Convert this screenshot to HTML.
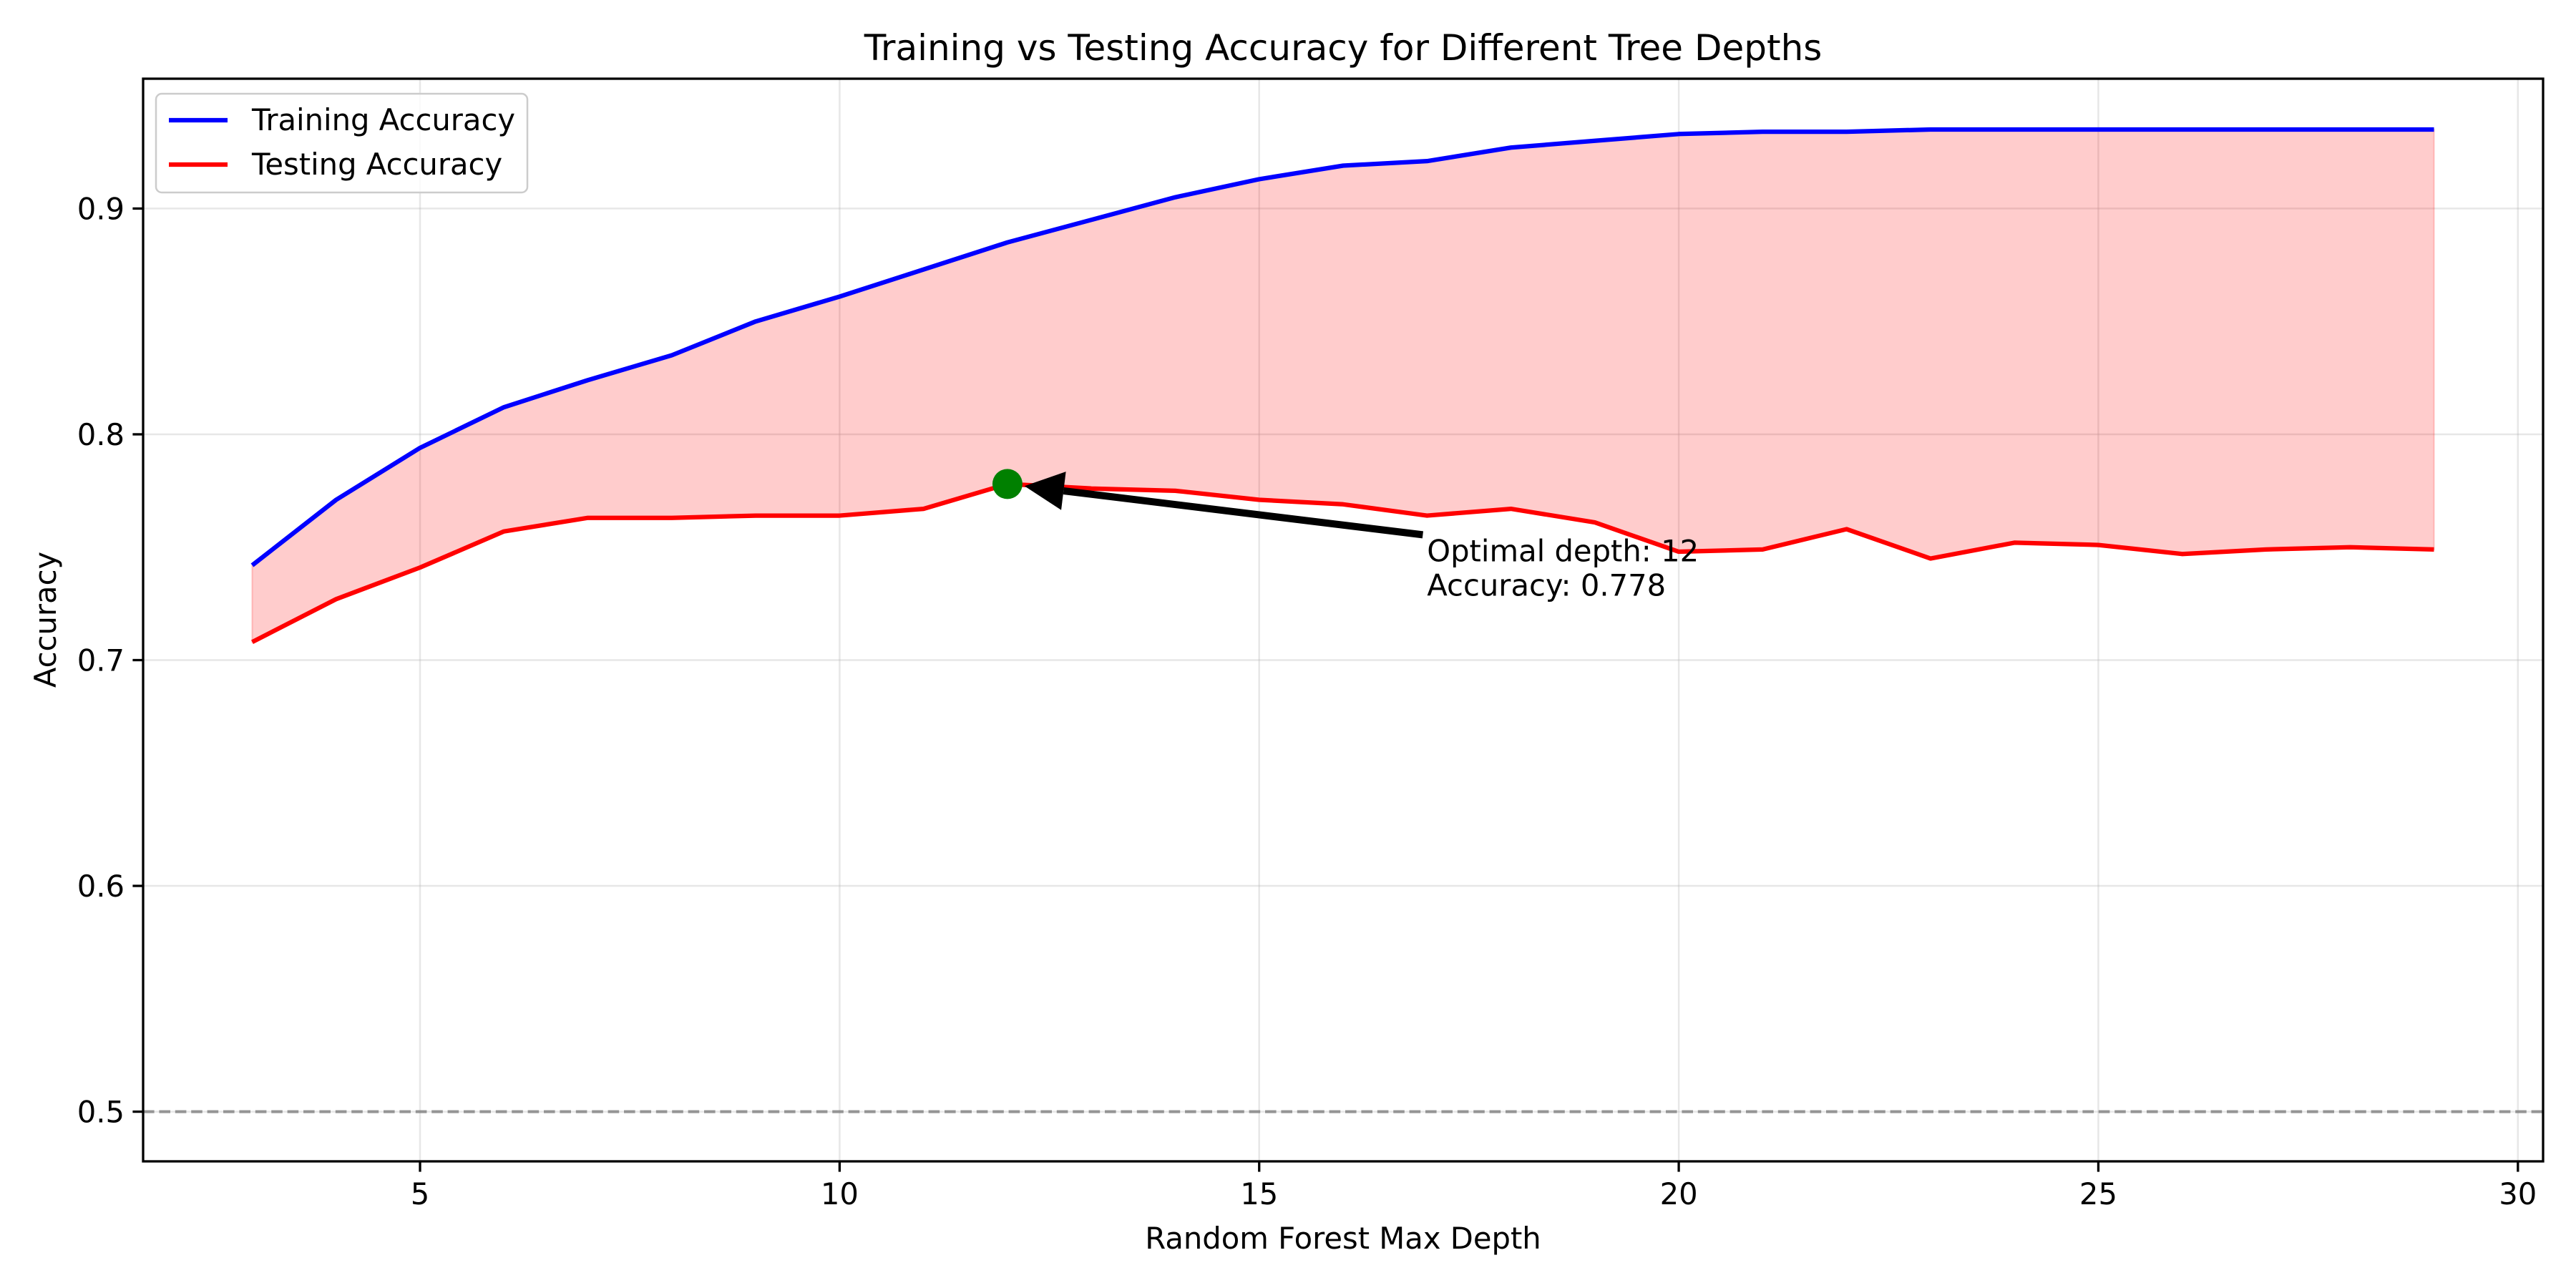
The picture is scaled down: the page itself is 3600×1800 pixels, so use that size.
<!DOCTYPE html>
<html><head><meta charset="utf-8"><style>
html,body{margin:0;padding:0;background:#fff;}
svg{display:block;font-family:"DejaVu Sans","Liberation Sans",sans-serif;}
</style></head><body>
<svg id="chart" width="3600" height="1800" viewBox="0 0 3600 1800" xmlns="http://www.w3.org/2000/svg">
<rect width="3600" height="1800" fill="#fff"/>
<g id="grid"></g>
<g id="fill"></g>
<g id="lines"></g>
<g id="axes"></g>
<text x="1877" y="84" font-size="50" text-anchor="middle">Training vs Testing Accuracy for Different Tree Depths</text>
<text x="1877" y="1745" font-size="41.7" text-anchor="middle">Random Forest Max Depth</text>
<text transform="translate(78,866) rotate(-90)" font-size="41.7" text-anchor="middle">Accuracy</text>
<g>
<rect x="218" y="131" width="519" height="138" rx="8" fill="#fff" fill-opacity="0.8" stroke="#ccc" stroke-width="2.5"/>
<line x1="236" y1="168" x2="318" y2="168" stroke="#0000ff" stroke-width="6.25"/>
<text x="352" y="182" font-size="41.7">Training Accuracy</text>
<line x1="236" y1="230" x2="318" y2="230" stroke="#ff0000" stroke-width="6.25"/>
<text x="352" y="244" font-size="41.7">Testing Accuracy</text>
</g>
<g id="annot"></g>
</svg>
<script>
const depths=[3,4,5,6,7,8,9,10,11,12,13,14,15,16,17,18,19,20,21,22,23,24,25,26,27,28,29];
const trainAcc=[0.742,0.771,0.794,0.812,0.824,0.835,0.850,0.861,0.873,0.885,0.895,0.905,0.913,0.919,0.921,0.927,0.930,0.933,0.934,0.934,0.935,0.935,0.935,0.935,0.935,0.935,0.935];
const testAcc=[0.708,0.727,0.741,0.757,0.763,0.763,0.764,0.764,0.767,0.778,0.776,0.775,0.771,0.769,0.764,0.767,0.761,0.748,0.749,0.758,0.745,0.752,0.751,0.747,0.749,0.750,0.749];
const xTicks=[5,10,15,20,25,30];
const yTicks=[0.5,0.6,0.7,0.8,0.9];
const optDepth=12, optAcc=0.778;
const baseline=0.5;

const L=200,R=3554,T=110,B=1623;
const X0=1.7,X1=30.3,Y0=0.478,Y1=0.9575;
const sx=v=>L+(v-X0)/(X1-X0)*(R-L);
const sy=v=>B-(v-Y0)/(Y1-Y0)*(B-T);
const NS="http://www.w3.org/2000/svg";
function mk(tag,attrs,parent){const e=document.createElementNS(NS,tag);for(const k in attrs)e.setAttribute(k,attrs[k]);parent.appendChild(e);return e;}
const grid=document.getElementById('grid'),axes=document.getElementById('axes');
xTicks.forEach(t=>{const x=sx(t);
 const g=mk('line',{x1:x,y1:T,x2:x,y2:B,stroke:'#b0b0b0','stroke-opacity':0.3,'stroke-width':2.5},grid);
 
 
 const tk=mk('line',{x1:x,y1:B,x2:x,y2:B+14.6,stroke:'#000','stroke-width':3.3},axes);
 
 
 const tx=mk('text',{x:x,y:B+60,'font-size':41.7,'text-anchor':'middle'},axes);tx.textContent=t;
 
 
});
yTicks.forEach(t=>{const y=sy(t);
 const g=mk('line',{x1:L,y1:y,x2:R,y2:y,stroke:'#b0b0b0','stroke-opacity':0.3,'stroke-width':2.5},grid);
 
 
 const tk=mk('line',{x1:L-14.6,y1:y,x2:L,y2:y,stroke:'#000','stroke-width':3.3},axes);
 
 
 const tx=mk('text',{x:L-26,y:y+15,'font-size':41.7,'text-anchor':'end'},axes);tx.textContent=t.toFixed(1);
 
 
});
const fr=mk('rect',{x:L,y:T,width:R-L,height:B-T,fill:'none',stroke:'#000','stroke-width':3.3},axes);


// fill
let d='M'+depths.map((v,i)=>sx(v)+','+sy(trainAcc[i])).join('L');
for(let i=depths.length-1;i>=0;i--)d+='L'+sx(depths[i])+','+sy(testAcc[i]);
const fp=mk('path',{d:d+'Z',fill:'#ff0000','fill-opacity':0.2,stroke:'#ff0000','stroke-opacity':0.2,'stroke-width':2},document.getElementById('fill'));


const lines=document.getElementById('lines');
const bl=mk('line',{x1:L,y1:sy(baseline),x2:R,y2:sy(baseline),stroke:'#808080','stroke-opacity':0.8,'stroke-width':4.2,'stroke-dasharray':'15.6,6.8'},lines);


const tr=mk('polyline',{points:depths.map((v,i)=>sx(v)+','+sy(trainAcc[i])).join(' '),fill:'none',stroke:'#0000ff','stroke-width':6.25,'stroke-linejoin':'round'},lines);


const te=mk('polyline',{points:depths.map((v,i)=>sx(v)+','+sy(testAcc[i])).join(' '),fill:'none',stroke:'#ff0000','stroke-width':6.25,'stroke-linejoin':'round'},lines);


// annotation
const an=document.getElementById('annot');
const mx=sx(optDepth),my=sy(optAcc);
const dot=mk('circle',{cx:mx,cy:my,r:21,fill:'#008000'},an);


const tx0=sx(optDepth+4.95),ty0=my+71;
const ang=Math.atan2(ty0-my,tx0-mx),tipX=mx+24*Math.cos(ang),tipY=my+24*Math.sin(ang);
const hb=55,hw=27,ux=Math.cos(ang),uy=Math.sin(ang);
const bx=tipX+hb*ux,by=tipY+hb*uy;
const sh=mk('line',{x1:bx,y1:by,x2:tx0,y2:ty0,stroke:'#000','stroke-width':10},an);


const hd=mk('polygon',{points:`${tipX},${tipY} ${bx-uy*hw},${by+ux*hw} ${bx+uy*hw},${by-ux*hw}`,fill:'#000'},an);


const t1=mk('text',{x:sx(optDepth+5),y:my+108,'font-size':41.7},an);t1.textContent='Optimal depth: '+optDepth;


const t2=mk('text',{x:sx(optDepth+5),y:my+156,'font-size':41.7},an);t2.textContent='Accuracy: '+optAcc.toFixed(3);


</script>
</body></html>
